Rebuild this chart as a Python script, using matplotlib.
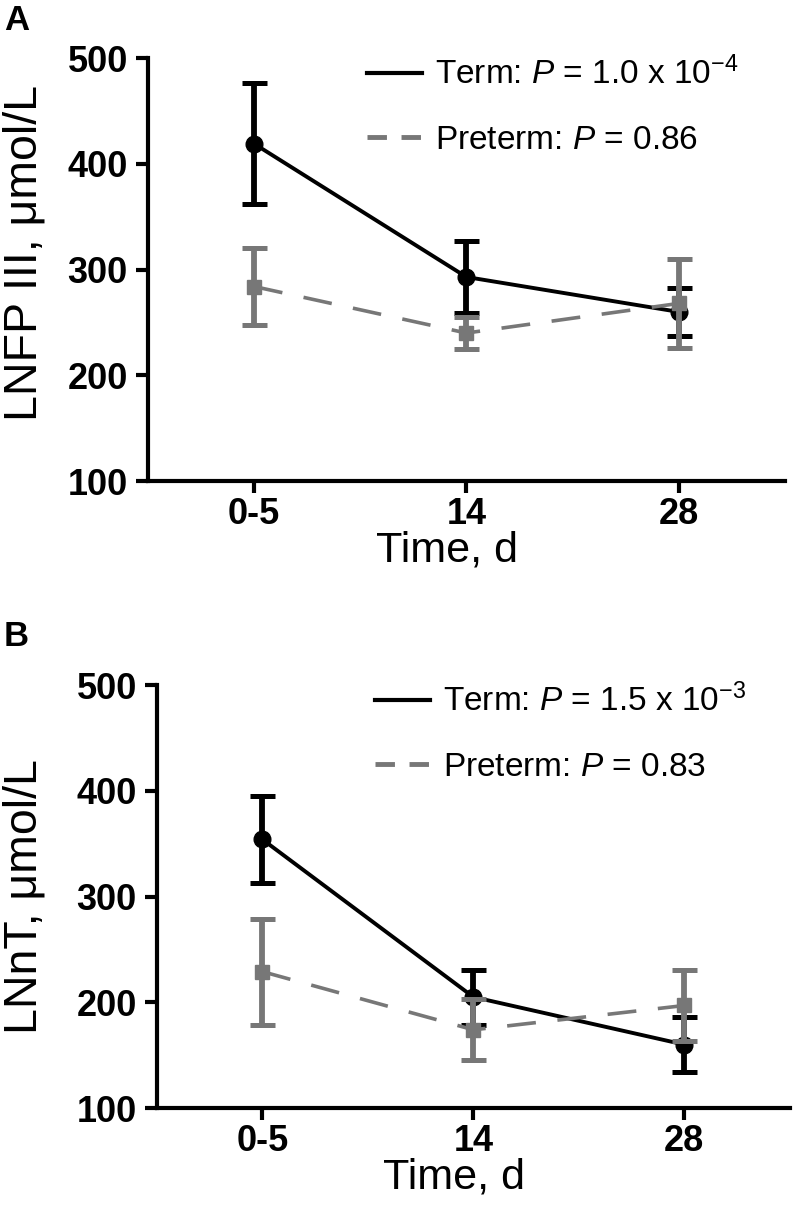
import matplotlib
matplotlib.use("Agg")
import matplotlib.pyplot as plt
from matplotlib.lines import Line2D

plt.rcParams["font.family"] = ["Liberation Sans", "DejaVu Sans"]
plt.rcParams["mathtext.fontset"] = "custom"
plt.rcParams["mathtext.rm"] = "Liberation Sans"
plt.rcParams["mathtext.it"] = "Liberation Sans:italic"

# time points
time_labels = ["0-5", "14", "28"]
x = [0, 1, 2]

# panel A: LNFP III
lnfp_term = [419, 293, 260]
lnfp_term_err = [57, 34, 23]
lnfp_pre = [284, 240, 268]
lnfp_pre_err = [36, 15, 42]

# panel B: LNnT
lnnt_term = [354, 205, 160]
lnnt_term_err = [41, 26, 26]
lnnt_pre = [229, 174, 197]
lnnt_pre_err = [50, 29, 34]

panels = [
    ("A", "LNFP III, μmol/L", lnfp_term, lnfp_term_err, lnfp_pre, lnfp_pre_err,
     "Term: $\\it{P}$ = 1.0 x 10$^{-4}$", "Preterm: $\\it{P}$ = 0.86"),
    ("B", "LNnT, μmol/L", lnnt_term, lnnt_term_err, lnnt_pre, lnnt_pre_err,
     "Term: $\\it{P}$ = 1.5 x 10$^{-3}$", "Preterm: $\\it{P}$ = 0.83"),
]

BLACK = "#000000"
GRAY = "#777777"

fig = plt.figure(figsize=(7.97, 12.21), dpi=100)
axes_rects = [
    [0.1857, 0.606, 0.799, 0.3464],
    [0.197, 0.0925, 0.794, 0.3464],
]
letter_y = [0.997, 1 - 620 / 1221]
ylabel_pos = [(-0.16, 0.54), (-0.175, 0.5)]

for i, (letter, ylab, term, term_err, pre, pre_err, lab_t, lab_p) in enumerate(panels):
    ax = fig.add_axes(axes_rects[i])

    ax.errorbar(x, term, yerr=term_err, color=BLACK, marker="o", markersize=12,
                linewidth=2.8, elinewidth=4.2, capsize=9, capthick=3.6, zorder=3)
    eb = ax.errorbar(x, pre, yerr=pre_err, color=GRAY, marker="s", markersize=10.5,
                     linewidth=2.6, elinewidth=4.2, capsize=9, capthick=3.6, zorder=4)
    eb[0].set_linestyle((0, (8, 6)))

    ax.set_xlim(-0.5, 2.5)
    ax.set_ylim(100, 500)
    ax.set_yticks([100, 200, 300, 400, 500])
    ax.set_xticks(x)
    ax.set_xticklabels(time_labels)

    for side in ["top", "right"]:
        ax.spines[side].set_visible(False)
    for side in ["left", "bottom"]:
        ax.spines[side].set_linewidth(3)
    ax.tick_params(axis="both", length=8.5, width=3, labelsize=26)
    ax.tick_params(axis="x", pad=3)
    ax.tick_params(axis="y", pad=6)
    for lab in ax.get_xticklabels() + ax.get_yticklabels():
        lab.set_fontweight("bold")

    ax.set_ylabel(ylab, fontsize=33.5)
    ax.yaxis.set_label_coords(*ylabel_pos[i])
    ax.set_xlabel("Time, d", fontsize=31)
    ax.xaxis.set_label_coords(0.47, -0.118)

    handles = [
        Line2D([], [], color=BLACK, linewidth=3),
        Line2D([], [], color=GRAY, linewidth=3.5, linestyle=(0, (4, 3))),
    ]
    ax.legend(handles, [lab_t, lab_p], loc="upper left", bbox_to_anchor=(0.344, 1.003),
              frameon=False, fontsize=24, handlelength=1.65, handletextpad=0.4,
              labelspacing=1.0, borderpad=0, borderaxespad=0)

    fig.text(0.005, letter_y[i], letter, fontsize=25, fontweight="bold",
             ha="left", va="top")

fig.savefig("out.png", dpi=100)
